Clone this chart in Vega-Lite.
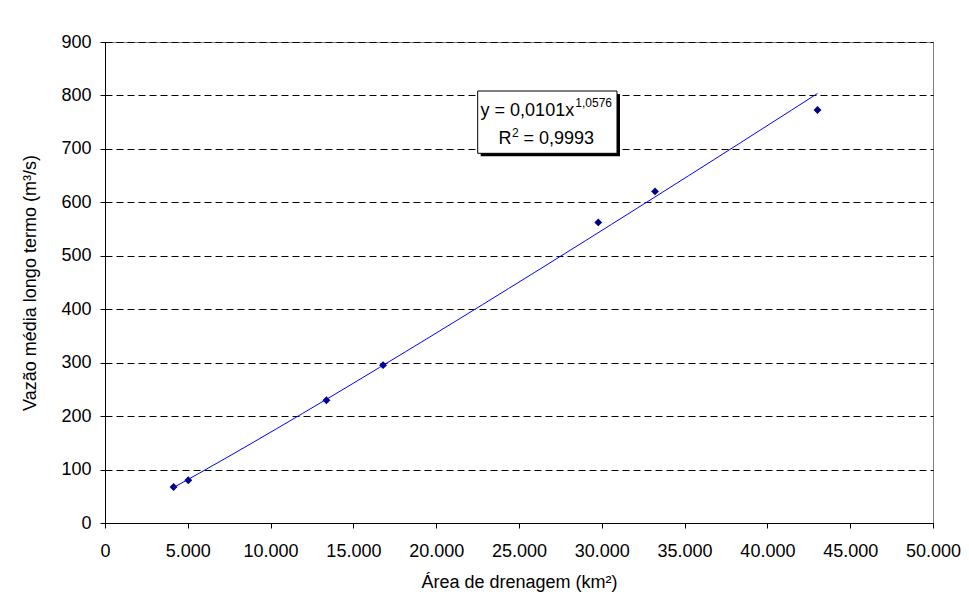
{
  "$schema": "https://vega.github.io/schema/vega-lite/v6.json",
  "width": 828,
  "height": 481,
  "autosize": {"type": "none"},
  "padding": {"left": 105, "top": 42, "right": 36, "bottom": 83},
  "background": "white",
  "config": {
    "locale": {"number": {"decimal": ",", "thousands": ".", "grouping": [3], "currency": ["R$", ""]}},
    "font": "Liberation Sans",
    "view": {"stroke": "#808080", "strokeWidth": 1},
    "axis": {
      "labelFont": "Liberation Sans",
      "labelFontSize": 18,
      "labelColor": "black",
      "titleFont": "Liberation Sans",
      "titleFontSize": 18,
      "titleFontWeight": "normal",
      "titleColor": "black",
      "domainColor": "black",
      "domainWidth": 1,
      "tickColor": "black",
      "tickSize": 5,
      "tickWidth": 1,
      "gridColor": "black",
      "gridDash": [7, 4],
      "gridOpacity": 1,
      "gridWidth": 1
    }
  },
  "data": {
    "values": [
      {"area": 4140, "vazao": 67.4},
      {"area": 5029, "vazao": 80},
      {"area": 13370, "vazao": 229.7},
      {"area": 16792, "vazao": 295.3},
      {"area": 29787, "vazao": 562.4},
      {"area": 33214, "vazao": 620.5},
      {"area": 43025, "vazao": 772.7}
    ]
  },
  "layer": [
    {
      "mark": {"type": "point", "shape": "diamond", "filled": true, "color": "#000080", "size": 62, "opacity": 1},
      "encoding": {
        "x": {
          "field": "area",
          "type": "quantitative",
          "scale": {"domain": [0, 50000], "nice": false},
          "axis": {
            "title": "Área de drenagem (km²)",
            "values": [0, 5000, 10000, 15000, 20000, 25000, 30000, 35000, 40000, 45000, 50000],
            "format": ",d",
            "grid": false,
            "labelPadding": 14,
            "labelFlush": false,
            "labelOverlap": false,
            "titleY": 64,
            "titleBaseline": "alphabetic"
          }
        },
        "y": {
          "field": "vazao",
          "type": "quantitative",
          "scale": {"domain": [0, 900], "nice": false},
          "axis": {
            "title": "Vazão média longo termo (m³/s)",
            "values": [0, 100, 200, 300, 400, 500, 600, 700, 800, 900],
            "grid": true,
            "labelPadding": 9,
            "labelFlush": false,
            "labelOverlap": false,
            "titleX": -70,
            "titleY": 240.5,
            "titleAlign": "center",
            "titleBaseline": "alphabetic"
          }
        }
      }
    },
    {
      "transform": [{"regression": "vazao", "on": "area", "method": "pow"}],
      "mark": {"type": "line", "color": "#0000FF", "strokeWidth": 1},
      "encoding": {
        "x": {"field": "area", "type": "quantitative"},
        "y": {"field": "vazao", "type": "quantitative"}
      }
    },
    {
      "data": {"values": [{}]},
      "mark": {"type": "rect", "fill": "black", "xOffset": 3, "x2Offset": 3, "yOffset": 3, "y2Offset": 3},
      "encoding": {
        "x": {"datum": 22506},
        "x2": {"datum": 30918},
        "y": {"datum": 808.3},
        "y2": {"datum": 691.7}
      }
    },
    {
      "data": {"values": [{}]},
      "mark": {"type": "rect", "fill": "white", "stroke": "black", "strokeWidth": 1},
      "encoding": {
        "x": {"datum": 22506},
        "x2": {"datum": 30918},
        "y": {"datum": 808.3},
        "y2": {"datum": 691.7}
      }
    },
    {
      "data": {"values": [{}]},
      "mark": {"type": "text", "text": "y = 0,0101x", "align": "left", "baseline": "middle", "fontSize": 18, "font": "Liberation Sans", "color": "black"},
      "encoding": {"x": {"datum": 22680}, "y": {"datum": 771.8}}
    },
    {
      "data": {"values": [{}]},
      "mark": {"type": "text", "text": "1,0576", "align": "left", "baseline": "middle", "fontSize": 12, "font": "Liberation Sans", "color": "black"},
      "encoding": {"x": {"datum": 28400}, "y": {"datum": 785.9}}
    },
    {
      "data": {"values": [{}]},
      "mark": {"type": "text", "text": "R", "align": "left", "baseline": "middle", "fontSize": 18, "font": "Liberation Sans", "color": "black"},
      "encoding": {"x": {"datum": 23762}, "y": {"datum": 718.5}}
    },
    {
      "data": {"values": [{}]},
      "mark": {"type": "text", "text": "2", "align": "left", "baseline": "middle", "fontSize": 12, "font": "Liberation Sans", "color": "black"},
      "encoding": {"x": {"datum": 24577}, "y": {"datum": 729.7}}
    },
    {
      "data": {"values": [{}]},
      "mark": {"type": "text", "text": "= 0,9993", "align": "left", "baseline": "middle", "fontSize": 18, "font": "Liberation Sans", "color": "black"},
      "encoding": {"x": {"datum": 25270}, "y": {"datum": 718.5}}
    }
  ]
}
